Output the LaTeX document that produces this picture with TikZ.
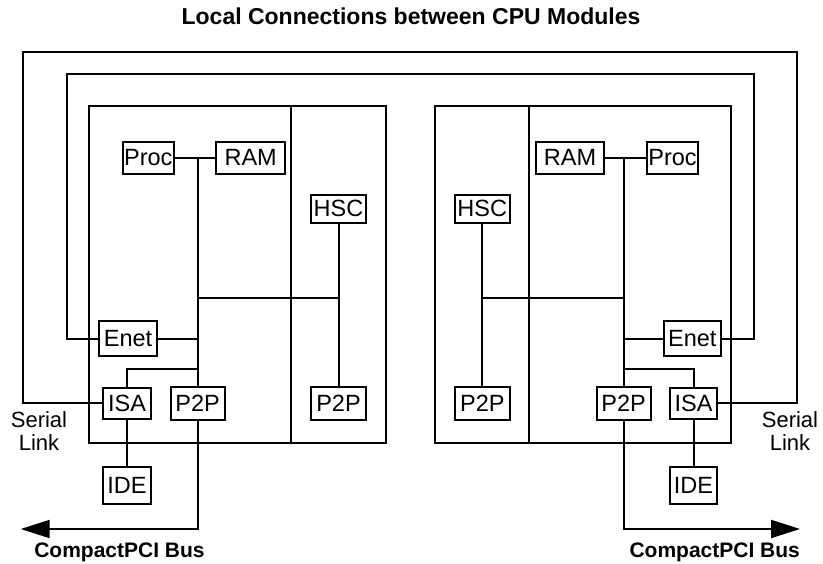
\documentclass[tikz,border=0pt]{standalone}
\usepackage{fontspec}
\setmainfont{Liberation Sans}
\usetikzlibrary{arrows.meta}
\tikzset{
  box/.style={draw, line width=2pt, inner sep=0pt, minimum height=32pt, font=\fontsize{23.5}{27}\selectfont},
  wire/.style={line width=2pt},
  modbox/.style={line width=2pt},
  lbl/.style={inner sep=0pt, anchor=base, font=\fontsize{22}{25}\selectfont},
  blbl/.style={inner sep=0pt, anchor=base, font=\fontsize{21}{25}\selectfont\bfseries},
  bus/.style={line width=2pt, -{Triangle[length=29pt,width=18pt]}}
}
\begin{document}
\begin{tikzpicture}[x=1pt,y=-1pt]
\useasboundingbox (0,0) rectangle (823,563);
% title
\node[inner sep=0pt, anchor=base, font=\fontsize{23}{27}\selectfont\bfseries] (title) at (411,24) {Local Connections between CPU Modules};
% module frames
\draw[modbox] (88.7,106) rectangle (386,443.3);
\draw[modbox] (291,106) -- (291,443.3);
\draw[modbox] (435,106) rectangle (731,443.3);
\draw[modbox] (529,106) -- (529,443.3);
% left module nodes
\node[box, minimum width=51.3pt] (procL) at (148.3,157.8) {Proc};
\node[box, minimum width=69.3pt] (ramL) at (250.7,157.8) {RAM};
\node[box, minimum width=55.3pt, minimum height=28.3pt] (hscL) at (338.5,208.8) {HSC};
\node[box, minimum width=58pt, minimum height=35pt] (enetL) at (128,338.5) {Enet};
\node[box, minimum width=48.3pt, minimum height=31.3pt] (isaL) at (127,403.3) {ISA};
\node[box, minimum width=54.3pt, minimum height=33.3pt] (ppL) at (197.7,403.3) {P2P};
\node[box, minimum width=55.3pt, minimum height=33.3pt] (ppL2) at (338.5,403.3) {P2P};
\node[box, minimum width=48.3pt, minimum height=37.3pt] (ideL) at (127,485.3) {IDE};
% right module nodes
\node[box, minimum width=68.6pt] (ramR) at (570,157.8) {RAM};
\node[box, minimum width=51.6pt] (procR) at (672.5,157.8) {Proc};
\node[box, minimum width=55.3pt, minimum height=28.3pt] (hscR) at (482.3,208.8) {HSC};
\node[box, minimum width=57.3pt, minimum height=35pt] (enetR) at (692.3,338.5) {Enet};
\node[box, minimum width=54.3pt, minimum height=33.3pt] (ppR) at (623.7,403.3) {P2P};
\node[box, minimum width=47.7pt, minimum height=31.3pt] (isaR) at (693.5,403.3) {ISA};
\node[box, minimum width=55.3pt, minimum height=33.3pt] (ppR2) at (482.3,403.3) {P2P};
\node[box, minimum width=47.7pt, minimum height=37.3pt] (ideR) at (693.5,485.3) {IDE};
% coordinates
\coordinate (jL) at (197.7,157.8);
\coordinate (hL) at (197.7,297.7);
\coordinate (eL) at (197.7,338.5);
\coordinate (iL) at (197.7,369);
\coordinate (jR) at (623.7,157.8);
\coordinate (hR) at (623.7,297.7);
\coordinate (eR) at (623.7,338.5);
\coordinate (iR) at (623.7,369);
\coordinate (busL) at (20.7,529);
\coordinate (busR) at (800,529);
% left wiring
\draw[wire] (procL.east) -- (ramL.west);
\draw[wire] (jL) -- (ppL.north);
\draw[wire] (hL) -| (hscL.south);
\draw[wire] (hscL.south) -- (ppL2.north);
\draw[wire] (enetL.east) -- (eL);
\draw[wire] (iL) -| (isaL.north);
\draw[wire] (isaL.south) -- (ideL.north);
\draw[bus] (ppL.south) |- (busL);
% right wiring
\draw[wire] (ramR.east) -- (procR.west);
\draw[wire] (jR) -- (ppR.north);
\draw[wire] (hR) -| (hscR.south);
\draw[wire] (hscR.south) -- (ppR2.north);
\draw[wire] (enetR.west) -- (eR);
\draw[wire] (iR) -| (isaR.north);
\draw[wire] (isaR.south) -- (ideR.north);
\draw[bus] (ppR.south) |- (busR);
% loops
\draw[wire] (isaL.west) -- (23,403.3) -- (23,51.7) -- (796.7,51.7) -- (796.7,403.3) -- (isaR.east);
\draw[wire] (enetL.west) -- (67,338.5) -- (67,73.7) -- (754,73.7) -- (754,338.5) -- (enetR.east);
% labels
\node[lbl] (serL) at (39,427) {Serial};
\node[lbl] (linkL) at (39,450) {Link};
\node[lbl] (serR) at (790,427) {Serial};
\node[lbl] (linkR) at (790,450) {Link};
\node[blbl] (cpL) at (119.5,557) {CompactPCI Bus};
\node[blbl] (cpR) at (714.7,557) {CompactPCI Bus};
\end{tikzpicture}
\end{document}
